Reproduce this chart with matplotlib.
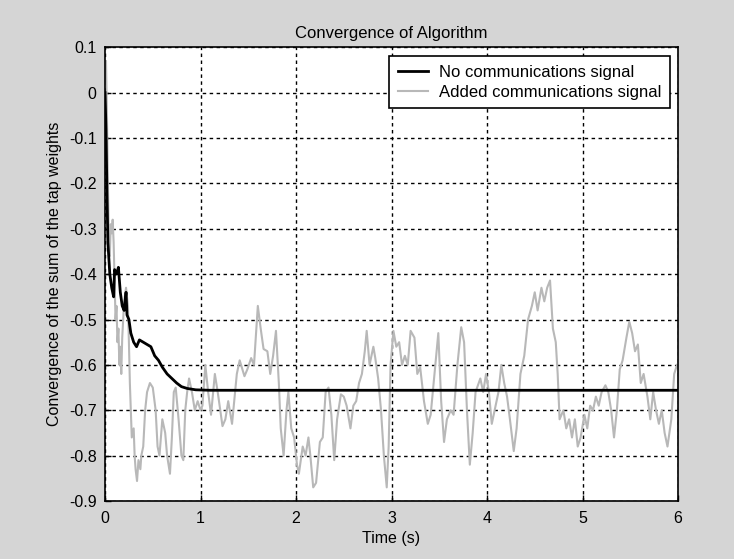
import matplotlib
matplotlib.use('Agg')
from matplotlib import pyplot as plt

# no communications signal (black)
t_clean = [0.0, 0.01, 0.02, 0.03, 0.05, 0.07, 0.09, 0.10, 0.12, 0.14, 0.16, 0.18,
           0.20, 0.22, 0.23, 0.25, 0.27, 0.30, 0.33, 0.36, 0.40, 0.44, 0.48, 0.52,
           0.56, 0.60, 0.65, 0.70, 0.75, 0.80, 0.86, 0.95, 1.10, 6.0]
w_clean = [0.0, -0.08, -0.22, -0.33, -0.40, -0.43, -0.45, -0.39, -0.40, -0.385, -0.44, -0.47,
           -0.48, -0.44, -0.49, -0.50, -0.53, -0.55, -0.56, -0.545, -0.55, -0.555, -0.56, -0.58,
           -0.59, -0.605, -0.62, -0.63, -0.64, -0.648, -0.652, -0.655, -0.656, -0.656]

# added communications signal (grey)
t_comm = [0.00, 0.01, 0.02, 0.03, 0.04, 0.05, 0.06, 0.07, 0.08, 0.09, 0.10, 0.11, 0.12, 0.13,
          0.14, 0.15, 0.16, 0.17, 0.18, 0.19, 0.20, 0.22, 0.24, 0.25, 0.26, 0.27, 0.28, 0.30,
          0.31, 0.32, 0.335, 0.35, 0.37, 0.38, 0.40, 0.42, 0.44, 0.47, 0.50, 0.53, 0.55, 0.57,
          0.60, 0.63, 0.65, 0.68, 0.70, 0.72, 0.74, 0.77, 0.80, 0.82, 0.84, 0.86, 0.88, 0.91,
          0.94, 0.97, 1.00, 1.02, 1.05, 1.08, 1.11, 1.15, 1.18, 1.23, 1.26, 1.29, 1.33, 1.38,
          1.41, 1.46, 1.49, 1.53, 1.56, 1.60, 1.63, 1.66, 1.70, 1.73, 1.76, 1.79, 1.82, 1.84,
          1.87, 1.90, 1.92, 1.95, 1.98, 2.01, 2.03, 2.07, 2.10, 2.13, 2.15, 2.18, 2.21, 2.25,
          2.28, 2.31, 2.34, 2.37, 2.40, 2.43, 2.47, 2.50, 2.53, 2.57, 2.60, 2.63, 2.66, 2.69,
          2.72, 2.74, 2.77, 2.81, 2.83, 2.86, 2.89, 2.92, 2.95, 2.97, 2.99, 3.02, 3.05, 3.08,
          3.11, 3.14, 3.17, 3.20, 3.24, 3.27, 3.30, 3.34, 3.38, 3.41, 3.45, 3.49, 3.52, 3.55,
          3.58, 3.62, 3.65, 3.69, 3.73, 3.76, 3.79, 3.82, 3.85, 3.88, 3.93, 3.96, 3.99, 4.02,
          4.05, 4.08, 4.12, 4.15, 4.18, 4.21, 4.24, 4.28, 4.31, 4.35, 4.39, 4.43, 4.47, 4.50,
          4.53, 4.57, 4.60, 4.63, 4.66, 4.69, 4.72, 4.74, 4.76, 4.80, 4.83, 4.86, 4.89, 4.92,
          4.95, 4.98, 5.02, 5.05, 5.08, 5.11, 5.14, 5.17, 5.20, 5.24, 5.27, 5.30, 5.33, 5.36,
          5.39, 5.42, 5.46, 5.49, 5.52, 5.55, 5.58, 5.61, 5.64, 5.68, 5.71, 5.74, 5.77, 5.80,
          5.83, 5.86, 5.89, 5.93, 5.96, 5.99]
w_comm = [0.02, 0.07, -0.05, -0.20, -0.32, -0.36, -0.29, -0.31, -0.28, -0.33, -0.42, -0.50, -0.47, -0.55,
          -0.52, -0.60, -0.56, -0.62, -0.54, -0.50, -0.46, -0.43, -0.47, -0.55, -0.64, -0.70, -0.76, -0.74,
          -0.80, -0.83, -0.856, -0.81, -0.83, -0.80, -0.78, -0.70, -0.66, -0.64, -0.65, -0.70, -0.78, -0.80,
          -0.72, -0.75, -0.80, -0.84, -0.76, -0.66, -0.65, -0.72, -0.80, -0.81, -0.70, -0.66, -0.63, -0.66,
          -0.70, -0.68, -0.70, -0.69, -0.60, -0.66, -0.71, -0.62, -0.66, -0.735, -0.72, -0.68, -0.73, -0.62,
          -0.59, -0.625, -0.61, -0.585, -0.60, -0.47, -0.52, -0.565, -0.57, -0.62, -0.58, -0.525, -0.64, -0.74,
          -0.80, -0.70, -0.66, -0.74, -0.76, -0.82, -0.84, -0.78, -0.80, -0.76, -0.80, -0.87, -0.86, -0.77,
          -0.76, -0.66, -0.65, -0.71, -0.81, -0.72, -0.665, -0.67, -0.69, -0.74, -0.69, -0.68, -0.64, -0.62,
          -0.57, -0.525, -0.60, -0.56, -0.585, -0.63, -0.70, -0.80, -0.87, -0.78, -0.60, -0.525, -0.56, -0.55,
          -0.60, -0.58, -0.60, -0.525, -0.54, -0.62, -0.605, -0.68, -0.73, -0.71, -0.62, -0.53, -0.68, -0.77,
          -0.72, -0.70, -0.71, -0.60, -0.517, -0.55, -0.70, -0.82, -0.75, -0.66, -0.63, -0.66, -0.62, -0.66,
          -0.73, -0.70, -0.66, -0.60, -0.64, -0.67, -0.72, -0.79, -0.74, -0.62, -0.58, -0.50, -0.47, -0.44,
          -0.48, -0.43, -0.46, -0.43, -0.414, -0.52, -0.55, -0.62, -0.72, -0.70, -0.74, -0.72, -0.76, -0.72,
          -0.78, -0.76, -0.71, -0.74, -0.69, -0.70, -0.67, -0.69, -0.66, -0.645, -0.66, -0.70, -0.76, -0.70,
          -0.61, -0.59, -0.54, -0.505, -0.53, -0.57, -0.555, -0.64, -0.62, -0.67, -0.72, -0.66, -0.70, -0.73,
          -0.70, -0.75, -0.78, -0.72, -0.62, -0.60]

x_ticks = [0, 1, 2, 3, 4, 5, 6]
y_ticks = [0.1, 0, -0.1, -0.2, -0.3, -0.4, -0.5, -0.6, -0.7, -0.8, -0.9]
y_labels = ['0.1', '0', '-0.1', '-0.2', '-0.3', '-0.4', '-0.5', '-0.6', '-0.7', '-0.8', '-0.9']

plt.rcParams['font.family'] = ['Liberation Sans', 'DejaVu Sans']

fig = plt.figure(figsize=(7.34, 5.59), dpi=100, facecolor='#d5d5d5')
ax = fig.add_axes([0.1431, 0.1038, 0.7806, 0.8116])
ax.set_facecolor('white')

ax.plot(t_clean, w_clean, color='black', linewidth=2.0, label='No communications signal', zorder=3)
ax.plot(t_comm, w_comm, color='#b8b8b8', linewidth=1.5, label='Added communications signal', zorder=2)

ax.set_xlim(0, 6)
ax.set_ylim(-0.9, 0.1)
ax.set_xticks(x_ticks)
ax.set_yticks(y_ticks)
ax.set_yticklabels(y_labels)
ax.tick_params(direction='in', length=4, width=1, labelsize=11.5, colors='black')
ax.tick_params(axis='x', pad=7)
ax.tick_params(axis='y', pad=6)
ax.grid(True, color='black', linestyle=(0, (2.5, 2.5)), linewidth=1.0)
for s in ax.spines.values():
    s.set_linewidth(1.2)
    s.set_color('black')

ax.set_title('Convergence of Algorithm', fontsize=12, pad=7)
ax.set_xlabel('Time (s)', fontsize=11.5, labelpad=4)
ax.set_ylabel('Convergence of the sum of the tap weights', fontsize=11.5, labelpad=5)

leg = ax.legend(loc='upper right', bbox_to_anchor=(0.986, 0.98), borderaxespad=0, fancybox=False,
                framealpha=1, edgecolor='black', fontsize=12, handlelength=1.8, handletextpad=0.7,
                borderpad=0.5, labelspacing=0.3)
leg.get_frame().set_linewidth(1.2)

fig.savefig('out.png', dpi=100, facecolor=fig.get_facecolor())
